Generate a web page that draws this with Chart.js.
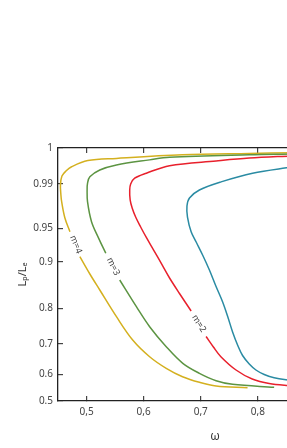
<!DOCTYPE html>
<html>
<head>
<meta charset="utf-8">
<script src="https://cdn.jsdelivr.net/npm/chart.js"></script>
<style>
  html, body { margin: 0; padding: 0; background: #fff; overflow: hidden; }
</style>
</head>
<body>
<canvas id="grafico" width="372" height="448"></canvas>
<script>
// curvas Lp/Le x omega (um par de arrays por m, null = espaço do rótulo)
var omegaM4 = [0.86, 0.785, 0.668, 0.5524, 0.5023, 0.4738, 0.4639, 0.4569, 0.4543, 0.4551, 0.4564, 0.4621, 0.4709, null, 0.4883, 0.5058, 0.5232, 0.5524, 0.5808, 0.6105, 0.6396, 0.6681, 0.6977, 0.7269, 0.782];
var ratioM4 = [0.9987, 0.9985, 0.9981, 0.9971, 0.9965, 0.9948, 0.9936, 0.9922, 0.9891, 0.9801, 0.974, 0.9593, 0.9449, null, 0.9075, 0.8736, 0.8393, 0.7765, 0.7112, 0.6581, 0.6198, 0.591, 0.57, 0.5562, 0.5498];

var omegaM3 = [0.86, 0.785, 0.6454, 0.6105, 0.5524, 0.5232, 0.5058, 0.5017, 0.501, 0.5017, 0.5087, 0.5213, 0.5337, null, 0.5581, 0.5873, 0.6105, 0.6396, 0.6686, 0.6977, 0.7269, 0.7558, 0.8286];
var ratioM3 = [0.9983, 0.9981, 0.9974, 0.9967, 0.9953, 0.9939, 0.992, 0.9902, 0.9846, 0.974, 0.956, 0.935, 0.9126, null, 0.8607, 0.8034, 0.7485, 0.6911, 0.6363, 0.6033, 0.576, 0.5625, 0.5513];

var omegaM2 = [0.86, 0.785, 0.7269, 0.6454, 0.6047, 0.5843, 0.5773, 0.5756, 0.5764, 0.5799, 0.586, 0.5948, 0.6052, 0.6175, 0.6314, 0.6454, 0.6628, 0.6832, null, 0.7094, 0.7222, 0.7353, 0.7618, 0.7902, 0.8199, 0.8602];
var ratioM2 = [0.9978, 0.9972, 0.9964, 0.9951, 0.993, 0.9916, 0.99, 0.9846, 0.9756, 0.9683, 0.9602, 0.9512, 0.9355, 0.9175, 0.8951, 0.865, 0.8318, 0.7924, null, 0.721, 0.6901, 0.6581, 0.6142, 0.5824, 0.5655, 0.5562];

var omegaM1 = [0.8602, 0.7908, 0.7356, 0.6977, 0.6803, 0.6759, 0.6768, 0.6832, 0.692, 0.7037, 0.7152, 0.7265, 0.7384, 0.7475, 0.7558, 0.7649, 0.7733, 0.785, 0.7967, 0.8112, 0.8286, 0.8602];
var ratioM1 = [0.9947, 0.993, 0.9906, 0.9846, 0.9774, 0.9701, 0.9602, 0.9449, 0.9295, 0.9093, 0.8822, 0.8479, 0.8135, 0.7756, 0.7336, 0.695, 0.662, 0.634, 0.6142, 0.5993, 0.5869, 0.5768];

var xTicks = [0.5, 0.6, 0.7, 0.8];
var yTicks = [0.5, 0.6, 0.7, 0.8, 0.9, 0.95, 0.99, 1];

// eixo y esticado: fração da altura em cada marca
var yStops = [0, 0.1055, 0.2253, 0.3664, 0.5506, 0.6826, 0.8577, 1];

function paraFracao(v) {
  if (v == null || isNaN(v)) return NaN;
  for (var i = 1; i < yTicks.length; i++) {
    if (v <= yTicks[i] || i == yTicks.length - 1) {
      var t = (v - yTicks[i - 1]) / (yTicks[i] - yTicks[i - 1]);
      return yStops[i - 1] + t * (yStops[i] - yStops[i - 1]);
    }
  }
}
function deFracao(f) {
  for (var i = 1; i < yStops.length; i++) {
    if (f <= yStops[i] || i == yStops.length - 1) {
      var t = (f - yStops[i - 1]) / (yStops[i] - yStops[i - 1]);
      return yTicks[i - 1] + t * (yTicks[i] - yTicks[i - 1]);
    }
  }
}

class EscalaEsticada extends Chart.LinearScale {
  buildTicks() { return yTicks.map(function (v) { return { value: v }; }); }
  getPixelForValue(v) { return this.getPixelForDecimal(paraFracao(v)); }
  getValueForPixel(p) { return deFracao(this.getDecimalForPixel(p)); }
}
EscalaEsticada.id = 'esticada';
EscalaEsticada.defaults = {};
Chart.register(EscalaEsticada);

function pontos(xs, ys) {
  return xs.map(function (x, i) { return { x: x, y: ys[i] }; });
}

// rótulos m=... sobre as curvas
var rotulos = [
  { texto: 'm=4', x: 0.4813, y: 0.9257, angulo: 68 },
  { texto: 'm=3', x: 0.5468, y: 0.8897, angulo: 64 },
  { texto: 'm=2', x: 0.6969, y: 0.7574, angulo: 58 }
];

var rotulosPlugin = {
  id: 'rotulos',
  afterDatasetsDraw: function (chart) {
    var c = chart.ctx;
    c.save();
    c.font = '9px "Noto Sans"';
    c.fillStyle = '#444';
    c.textAlign = 'center';
    c.textBaseline = 'middle';
    rotulos.forEach(function (r) {
      c.save();
      c.translate(chart.scales.x.getPixelForValue(r.x), chart.scales.y.getPixelForValue(r.y));
      c.rotate(r.angulo * Math.PI / 180);
      c.fillText(r.texto, 0, 0);
      c.restore();
    });
    c.restore();
  }
};

var fonte = { family: '"Noto Sans"', size: 10 };
var marcas = { drawOnChartArea: false, tickLength: -5, color: '#444', lineWidth: 1.2 };
var borda = { color: '#222', width: 1.3 };

var ctx = grafico.getContext('2d');

var chart = new Chart(ctx, {
  type: 'line',
  data: {
    datasets: [
      { label: 'm=1', data: pontos(omegaM1, ratioM1), borderColor: '#2a8ba3' },
      { label: 'm=2', data: pontos(omegaM2, ratioM2), borderColor: '#e8202c' },
      { label: 'm=3', data: pontos(omegaM3, ratioM3), borderColor: '#5c9442' },
      { label: 'm=4', data: pontos(omegaM4, ratioM4), borderColor: '#d4b01f' }
    ]
  },
  options: {
    responsive: false,
    animation: false,
    layout: { padding: { top: 148, left: 0, right: 0, bottom: 0 } },
    elements: {
      line: { borderWidth: 1.5, tension: 0.35, fill: false },
      point: { radius: 0 }
    },
    plugins: { legend: { display: false }, tooltip: { enabled: false } },
    scales: {
      x: {
        type: 'linear',
        position: 'bottom',
        min: 0.45,
        max: 1.0,
        afterBuildTicks: function (s) { s.ticks = xTicks.map(function (v) { return { value: v }; }); },
        afterFit: function (s) { s.height = 47; },
        ticks: {
          padding: 10,
          color: '#444',
          font: fonte,
          maxRotation: 0,
          callback: function (v) { return v.toFixed(1).replace('.', ','); }
        },
        grid: marcas,
        border: borda,
        title: { display: true, text: 'ω', color: '#333', font: { family: '"Noto Sans"', size: 12 }, padding: { top: 0, bottom: 4 } }
      },
      xTopo: {
        type: 'linear',
        position: 'top',
        min: 0.45,
        max: 1.0,
        afterBuildTicks: function (s) { s.ticks = xTicks.map(function (v) { return { value: v }; }); },
        afterFit: function (s) { s.height = 0; },
        ticks: { display: false },
        grid: marcas,
        border: borda
      },
      y: {
        type: 'esticada',
        position: 'left',
        min: 0.5,
        max: 1,
        afterFit: function (s) { s.width = 58; },
        ticks: {
          padding: 10,
          color: '#444',
          font: fonte,
          callback: function (v) { return String(v); }
        },
        grid: marcas,
        border: borda,
        title: { display: true, text: 'Lₚ/Lₑ', color: '#333', font: { family: '"Noto Sans"', size: 11 }, padding: { top: 16, bottom: 0 } }
      }
    }
  },
  plugins: [rotulosPlugin]
});
</script>
</body>
</html>
